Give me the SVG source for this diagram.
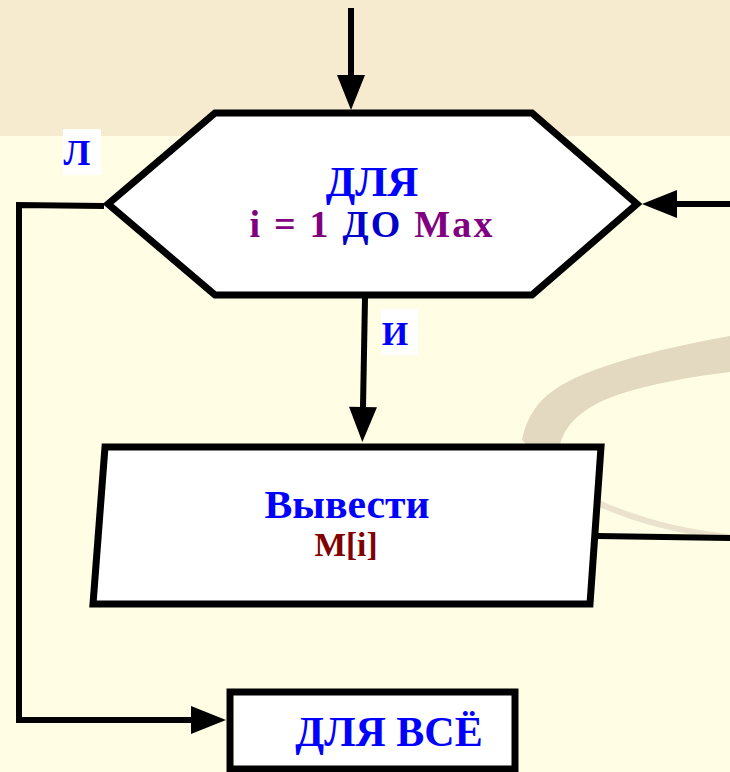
<svg xmlns="http://www.w3.org/2000/svg" width="730" height="772" viewBox="0 0 730 772">
<defs>
<style>
.t{font-family:"Liberation Serif","Times New Roman",serif;font-weight:bold;text-anchor:middle}
.blue{fill:#0000FF}
.dblue{fill:#0000CC}
.purple{fill:#800080}
.dred{fill:#800000}
.shape{fill:#FFFFFF;stroke:#000000;stroke-width:7;stroke-linejoin:miter}
.conn{fill:none;stroke:#000000;stroke-width:6}
.lbl{fill:#FFFFFF}
</style>
<marker id="ah" markerUnits="userSpaceOnUse" markerWidth="36" markerHeight="28" refX="0" refY="14" orient="auto" overflow="visible">
<path d="M0,0 L35,14 L0,28 Z" fill="#000000"/>
</marker>
</defs>
<rect x="0" y="0" width="730" height="772" fill="#FFFEE4"/>
<rect x="0" y="0" width="730" height="136" fill="#F6EBCF"/>
<g id="decor">
<path d="M522,440 C528,410 545,392 575,378 C620,358 680,345 730,336 L730,372 C680,378 630,388 600,402 C580,412 565,425 560,445 L527,445 Z" fill="#E3D9C0"/>
<path d="M560,480 C610,510 670,528 730,534 L730,540 C665,533 605,515 560,486 Z" fill="#EAE2CC"/>
</g>
<g id="connectors">
<line class="conn" x1="351" y1="8" x2="351" y2="75" marker-end="url(#ah)"/>
<line class="conn" x1="365" y1="298" x2="363" y2="407" marker-end="url(#ah)"/>
<line class="conn" x1="730" y1="204" x2="677" y2="204" marker-end="url(#ah)"/>
<polyline class="conn" points="104,206 19,205 19,720 191,720" marker-end="url(#ah)"/>
<line class="conn" x1="597" y1="536" x2="730" y2="538" stroke-width="5"/>
</g>
<g id="label-L">
<rect class="lbl" x="63" y="129" width="38" height="46"/>
<text class="t blue" x="77" y="165" font-size="36">Л</text>
</g>
<g id="label-I">
<rect class="lbl" x="381" y="309" width="37" height="46"/>
<text class="t blue" x="395" y="345" font-size="34">И</text>
</g>
<g id="node-for">
<polygon class="shape" points="215,113 532,113 637,204 532,295 215,295 108,204"/>
<text class="t blue" x="372" y="196" font-size="43">ДЛЯ</text>
<text class="t" x="371" y="237" font-size="38" textLength="243" lengthAdjust="spacing"><tspan class="purple">i = 1 </tspan><tspan class="dblue">ДО</tspan><tspan class="purple"> Max</tspan></text>
</g>
<g id="node-output">
<polygon class="shape" points="105,447 601,447 590,604 93,604"/>
<text class="t blue" x="347" y="518" font-size="40" textLength="165" lengthAdjust="spacingAndGlyphs">Вывести</text>
<text class="t dred" x="346" y="556" font-size="33" textLength="63" lengthAdjust="spacingAndGlyphs">M[i]</text>
</g>
<g id="node-end">
<rect class="shape" x="230" y="692" width="285" height="77"/>
<text class="t blue" x="389" y="746" font-size="42">ДЛЯ ВСЁ</text>
</g>
</svg>
